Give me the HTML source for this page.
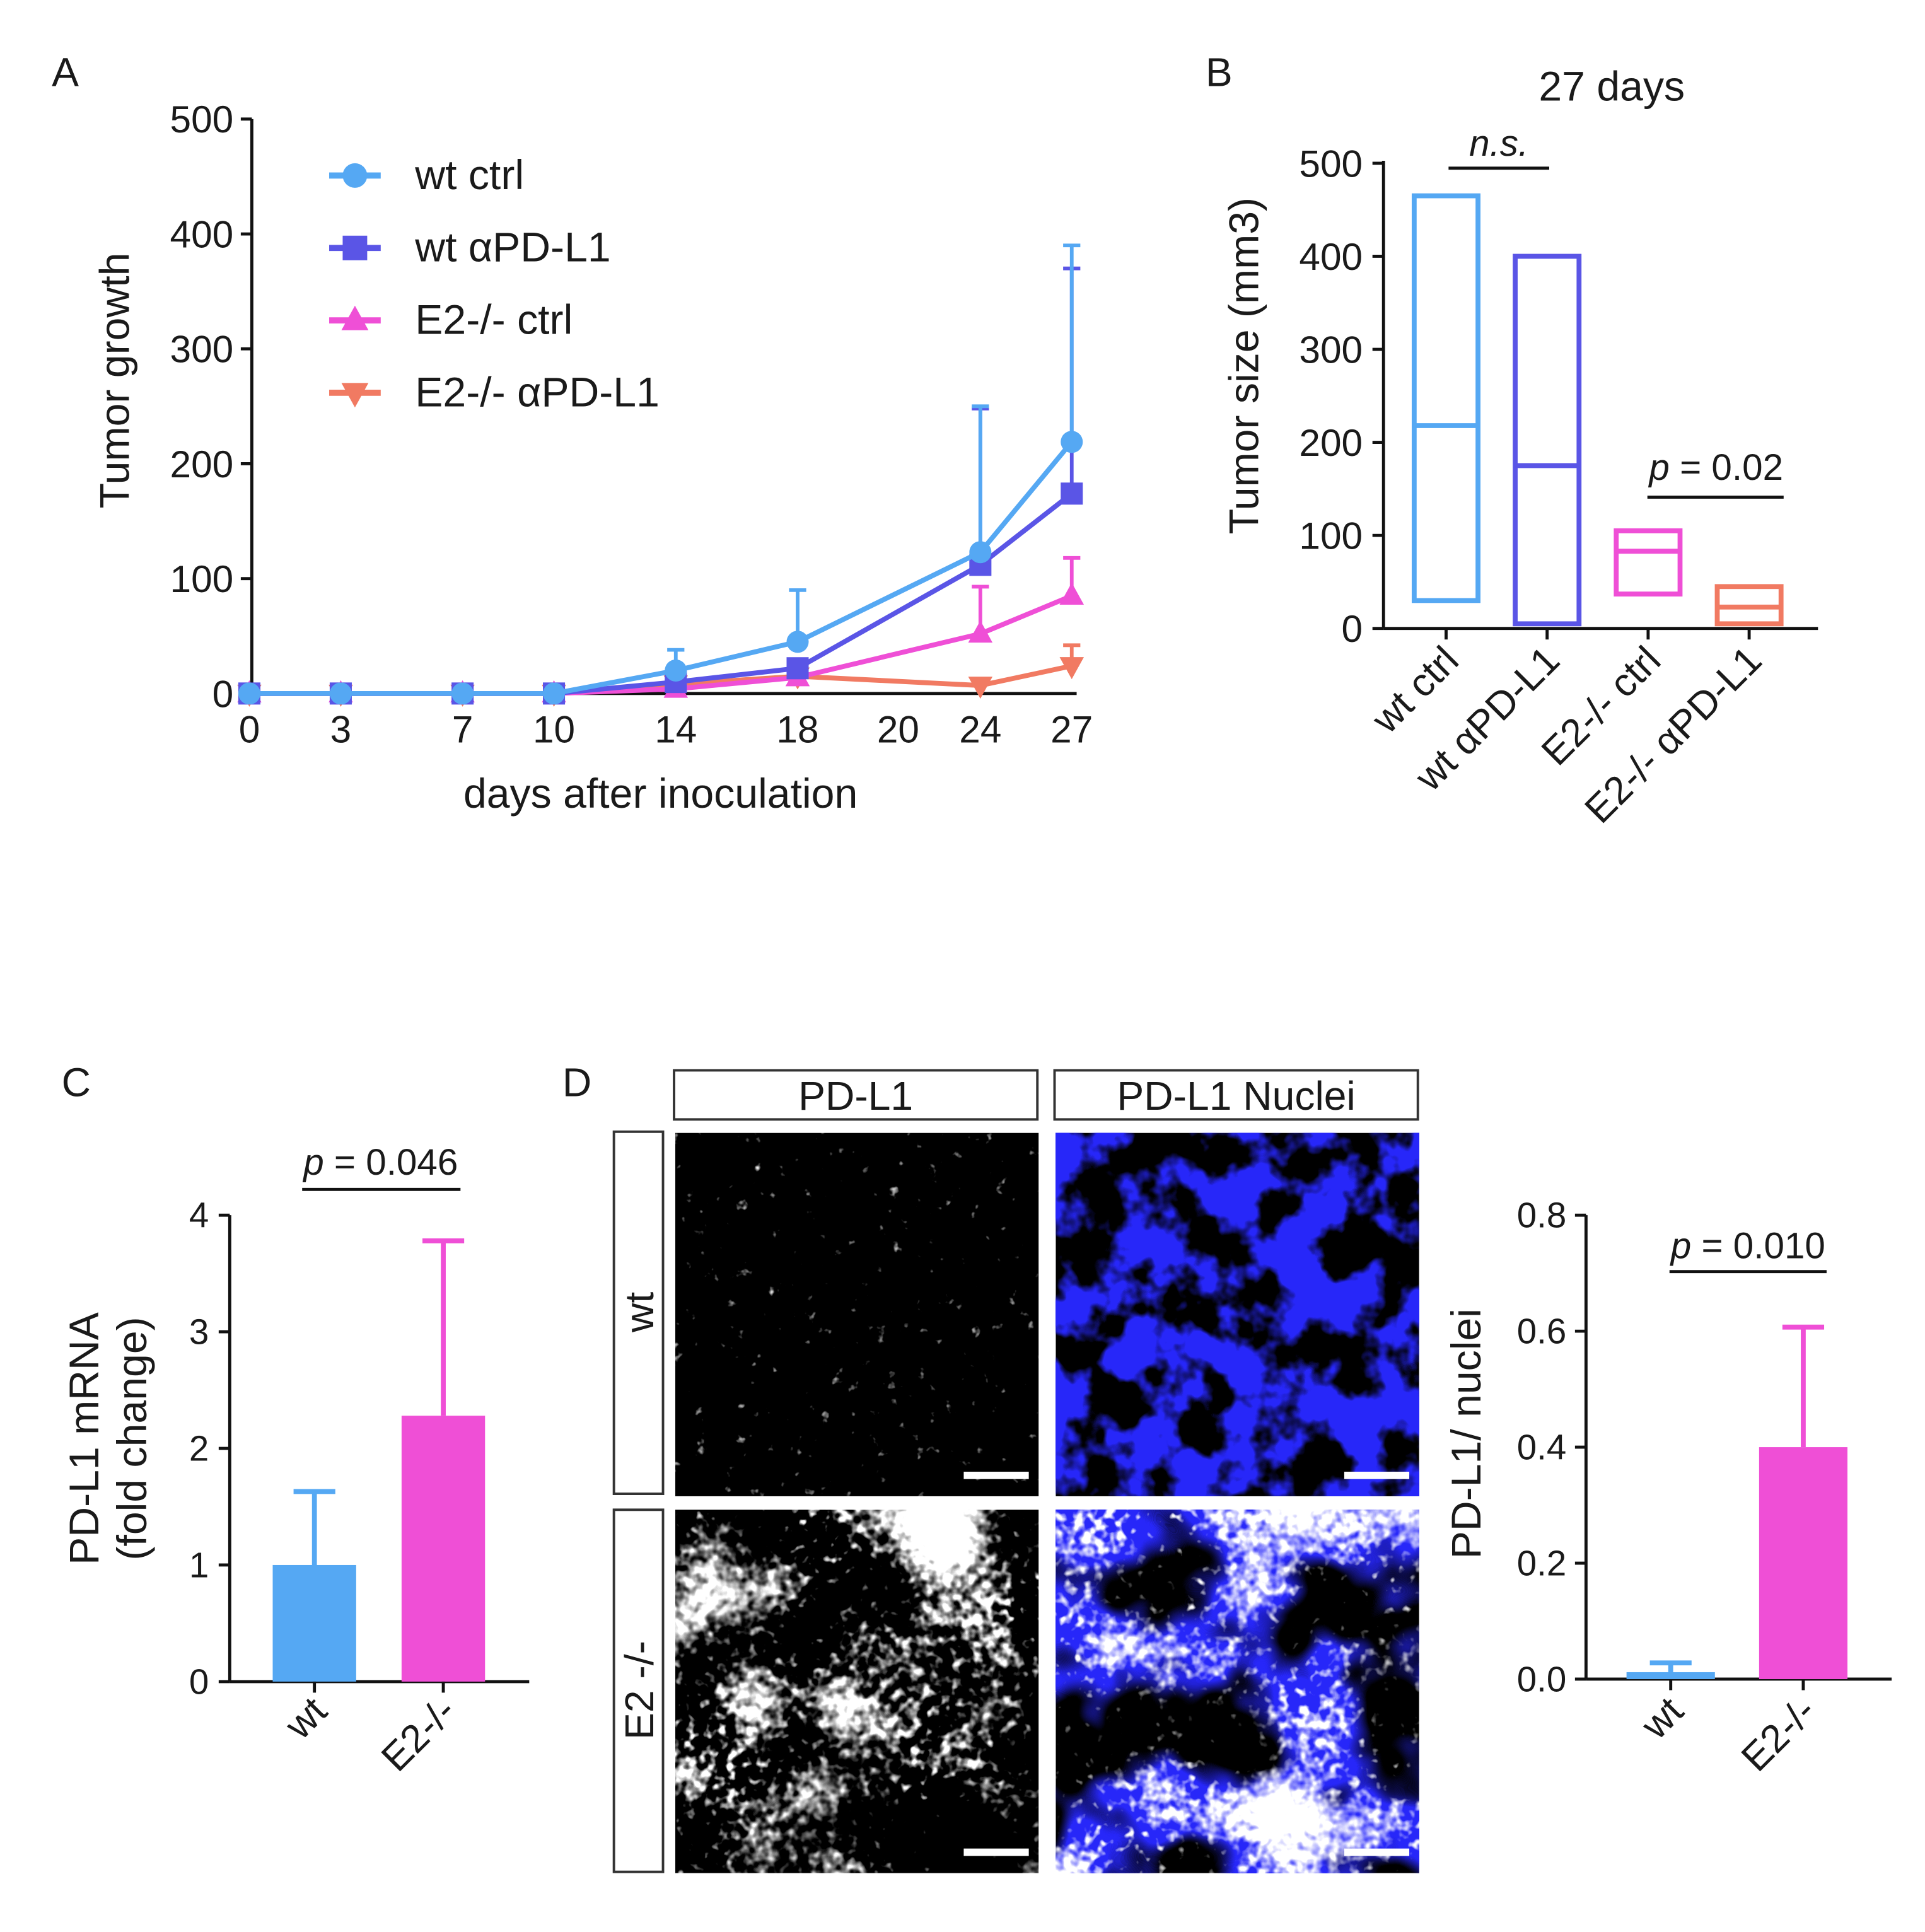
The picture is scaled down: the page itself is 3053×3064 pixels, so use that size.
<!DOCTYPE html>
<html><head><meta charset="utf-8"><style>
html,body{margin:0;padding:0;background:#fff}
svg{display:block}
text{font-family:"Liberation Sans",sans-serif;fill:#1a1a1a}
</style></head><body>
<svg id="fig" xmlns="http://www.w3.org/2000/svg" width="3053" height="3064" viewBox="0 0 1568 1574">
<defs>
<filter id="fBlue" x="0" y="0" width="1" height="1">
<feTurbulence type="fractalNoise" baseFrequency="0.024" numOctaves="4" seed="3"/>
<feColorMatrix type="matrix" values="0 0 0 0 0.02  0 0 0 0 0.02  0 0 0 0 0.95  7 0 0 0 -2.9"/>
</filter>
<filter id="fWhiteSparse" x="0" y="0" width="1" height="1">
<feTurbulence type="fractalNoise" baseFrequency="0.09" numOctaves="3" seed="7"/>
<feColorMatrix type="matrix" values="0 0 0 0 1  0 0 0 0 1  0 0 0 0 1  5 0 0 0 -3.6"/>
</filter>
<filter id="fWhite" x="0" y="0" width="1" height="1">
<feTurbulence type="fractalNoise" baseFrequency="0.011" numOctaves="2" seed="11" result="a"/>
<feTurbulence type="fractalNoise" baseFrequency="0.12" numOctaves="2" seed="5" result="b"/>
<feComposite in="a" in2="b" operator="arithmetic" k2="1" k3="0.6" k4="-0.25"/>
<feColorMatrix type="matrix" values="0 0 0 0 1  0 0 0 0 1  0 0 0 0 1  5 0 0 0 -1.3"/>
</filter>
<filter id="fBlueB" x="0" y="0" width="1" height="1">
<feTurbulence type="fractalNoise" baseFrequency="0.011" numOctaves="3" seed="11"/>
<feColorMatrix type="matrix" values="0 0 0 0 0.02  0 0 0 0 0.02  0 0 0 0 0.95  7 0 0 0 -2.6"/>
</filter>
</defs>
<g id="root"></g>
</svg>
<script>
// ---------- Panel A data ----------
const daysA = [0,3,7,10,14,18,24,27];
const wtCtrl = [0,0,0,0,20,45,123,219];
const wtCtrlErr = [0,0,0,0,38,90,250,390];
const wtPD = [0,0,0,0,10,22,112,174];
const wtPDErr = [0,0,0,0,14,28,248,370];
const e2Ctrl = [0,0,0,0,4,14,52,85];
const e2CtrlErr = [0,0,0,0,6,18,93,118];
const e2PD = [0,0,0,0,8,15,7,24];
const e2PDErr = [0,0,0,0,10,18,10,42];
const xTickVals = [0,3,7,10,14,18,21.3,24,27];
const xTickLabels = ['0','3','7','10','14','18','20','24','27'];
const yTicksA = [0,100,200,300,400,500];
const seriesNamesA = ['wt ctrl','wt \u03b1PD-L1','E2-/- ctrl','E2-/- \u03b1PD-L1'];
// ---------- Panel B data ----------
const catsB = ['wt ctrl','wt \u03b1PD-L1','E2-/- ctrl','E2-/- \u03b1PD-L1'];
const minB = [30,5,37,5];
const maxB = [465,400,105,45];
const meanB = [218,175,83,23];
const yTicksB = [0,100,200,300,400,500];
// ---------- Panel C data ----------
const catsC = ['wt','E2-/-'];
const valC = [1.0,2.28];
const errC = [1.63,3.78];
const yTicksC = [0,1,2,3,4];
// ---------- Panel D data ----------
const catsD = ['wt','E2-/-'];
const valD = [0.012,0.40];
const errD = [0.028,0.607];
const yTicksD = [0,0.2,0.4,0.6,0.8];
const yTickLabD = ['0.0','0.2','0.4','0.6','0.8'];

const colors = ['#55a8f3','#5a55e6','#ef4fd6','#f17a62'];
const NS='http://www.w3.org/2000/svg';
const root=document.getElementById('root');
function el(tag,attrs,parent,txt){const e=document.createElementNS(NS,tag);for(const k in attrs)e.setAttribute(k,attrs[k]);if(txt!==undefined)e.textContent=txt;(parent||root).appendChild(e);return e;}

// ===== Panel A =====
const ax=d=>203+d*(670/27);
const ay=v=>565-v*(468/500);
let t;
t=el('text',{x:42,y:70,'font-size':33},root,'A');

let l=el('line',{x1:205,y1:97,x2:205,y2:565,stroke:'#111','stroke-width':2.5});

l=el('line',{x1:205,y1:565,x2:877,y2:565,stroke:'#111','stroke-width':2.5});

yTicksA.forEach(v=>{
  const tk=el('line',{x1:196,y1:ay(v),x2:205,y2:ay(v),stroke:'#111','stroke-width':2.5});
  
  const tx=el('text',{x:190,y:ay(v)+11,'font-size':31,'text-anchor':'end'},root,String(v));
  
});
xTickVals.forEach((d,i)=>{
  const tx=el('text',{x:ax(d),y:605,'font-size':31,'text-anchor':'middle'},root,xTickLabels[i]);
  
});
t=el('text',{x:538,y:658,'font-size':34,'text-anchor':'middle'},root,'days after inoculation');

t=el('text',{x:0,y:0,'font-size':34,'text-anchor':'middle',transform:'translate(105,310) rotate(-90)'},root,'Tumor growth');


function marker(g,shape,x,y,c,s){
  if(shape===0) return el('circle',{cx:x,cy:y,r:s,fill:c},g);
  if(shape===1) return el('rect',{x:x-s,y:y-s,width:2*s,height:2*s,fill:c},g);
  if(shape===2) return el('polygon',{points:`${x},${y-s*1.2} ${x-s*1.1},${y+s*0.8} ${x+s*1.1},${y+s*0.8}`,fill:c},g);
  return el('polygon',{points:`${x},${y+s*1.2} ${x-s*1.1},${y-s*0.8} ${x+s*1.1},${y-s*0.8}`,fill:c},g);
}
const valsA=[wtCtrl,wtPD,e2Ctrl,e2PD], errsA=[wtCtrlErr,wtPDErr,e2CtrlErr,e2PDErr];
const seriesKeys=['wt-ctrl','wt-apdl1','e2-ctrl','e2-apdl1'];
for(let s=3;s>=0;s--){
  const g=el('g',{});
  
  daysA.forEach((d,i)=>{
    if(errsA[s][i]>valsA[s][i]){
      const e=el('line',{x1:ax(d),y1:ay(valsA[s][i]),x2:ax(d),y2:ay(errsA[s][i]),stroke:colors[s],'stroke-width':3},g);
      
      const c=el('line',{x1:ax(d)-7,y1:ay(errsA[s][i]),x2:ax(d)+7,y2:ay(errsA[s][i]),stroke:colors[s],'stroke-width':3},g);
      
    }
  });
  const pl=el('polyline',{points:daysA.map((d,i)=>ax(d)+','+ay(valsA[s][i])).join(' '),fill:'none',stroke:colors[s],'stroke-width':4},g);
  
  daysA.forEach((d,i)=>{
    const m=marker(g,s,ax(d),ay(valsA[s][i]),colors[s],9);
    
  });
}
// legend
seriesNamesA.forEach((n,i)=>{
  const y=143+i*59;
  const g=el('g',{});
  
  el('line',{x1:268,y1:y,x2:310,y2:y,stroke:colors[i],'stroke-width':5},g);
  marker(g,i,289,y,colors[i],10);
  el('text',{x:338,y:y+11,'font-size':34},g,n);
});

// ===== Panel B =====
const bx=i=>1178+i*82.3;
const by=v=>512-v*(379/500);
t=el('text',{x:982,y:70,'font-size':33},root,'B');

t=el('text',{x:1313,y:82,'font-size':34,'text-anchor':'middle'},root,'27 days');

l=el('line',{x1:1127,y1:131,x2:1127,y2:512,stroke:'#111','stroke-width':2.5});

l=el('line',{x1:1127,y1:512,x2:1481,y2:512,stroke:'#111','stroke-width':2.5});

yTicksB.forEach(v=>{
  const tk=el('line',{x1:1118,y1:by(v),x2:1127,y2:by(v),stroke:'#111','stroke-width':2.5});
  
  const tx=el('text',{x:1110,y:by(v)+11,'font-size':31,'text-anchor':'end'},root,String(v));
  
});
t=el('text',{x:0,y:0,'font-size':34,'text-anchor':'middle',transform:'translate(1025,298) rotate(-90)'},root,'Tumor size (mm3)');

catsB.forEach((c,i)=>{
  const r=el('rect',{x:bx(i)-26,y:by(maxB[i]),width:52,height:by(minB[i])-by(maxB[i]),fill:'none',stroke:colors[i],'stroke-width':4});
  
  const m=el('line',{x1:bx(i)-26,y1:by(meanB[i]),x2:bx(i)+26,y2:by(meanB[i]),stroke:colors[i],'stroke-width':4});
  
  const tk=el('line',{x1:bx(i),y1:512,x2:bx(i),y2:521,stroke:'#111','stroke-width':2.5});
  
  const tx=el('text',{x:0,y:0,'font-size':32,'text-anchor':'end',transform:`translate(${bx(i)+12},${540}) rotate(-45)`},root,c);
  
});
l=el('line',{x1:1180,y1:137,x2:1262,y2:137,stroke:'#111','stroke-width':2.5});

t=el('text',{x:1221,y:127,'font-size':30,'text-anchor':'middle','font-style':'italic'},root,'n.s.');

l=el('line',{x1:1342,y1:405,x2:1453,y2:405,stroke:'#111','stroke-width':2.5});

t=el('text',{x:1398,y:391,'font-size':30,'text-anchor':'middle'},root);

t.innerHTML='<tspan font-style="italic">p</tspan> = 0.02';

// ===== Panel C =====
const cy=v=>1370-v*95;
const cx=i=>256+i*105;
t=el('text',{x:50,y:893,'font-size':33},root,'C');

l=el('line',{x1:187,y1:990,x2:187,y2:1370,stroke:'#111','stroke-width':2.5});

l=el('line',{x1:187,y1:1370,x2:431,y2:1370,stroke:'#111','stroke-width':2.5});

yTicksC.forEach(v=>{
  const tk=el('line',{x1:178,y1:cy(v),x2:187,y2:cy(v),stroke:'#111','stroke-width':2.5});
  
  const tx=el('text',{x:170,y:cy(v)+10,'font-size':29,'text-anchor':'end'},root,String(v));
  
});
t=el('text',{x:0,y:0,'font-size':34,'text-anchor':'middle',transform:'translate(80,1172) rotate(-90)'},root,'PD-L1 mRNA');

t=el('text',{x:0,y:0,'font-size':34,'text-anchor':'middle',transform:'translate(119,1172) rotate(-90)'},root,'(fold change)');

const cCol=[colors[0],colors[2]];
catsC.forEach((c,i)=>{
  const e=el('line',{x1:cx(i),y1:cy(valC[i]),x2:cx(i),y2:cy(errC[i]),stroke:cCol[i],'stroke-width':4});
  
  const cp=el('line',{x1:cx(i)-17,y1:cy(errC[i]),x2:cx(i)+17,y2:cy(errC[i]),stroke:cCol[i],'stroke-width':4});
  
  const r=el('rect',{x:cx(i)-34,y:cy(valC[i]),width:68,height:1370-cy(valC[i]),fill:cCol[i]});
  
  const tk=el('line',{x1:cx(i),y1:1370,x2:cx(i),y2:1379,stroke:'#111','stroke-width':2.5});
  
  const tx=el('text',{x:0,y:0,'font-size':32,'text-anchor':'end',transform:`translate(${cx(i)+12},${1396}) rotate(-45)`},root,c);
  
});
l=el('line',{x1:246,y1:969,x2:375,y2:969,stroke:'#111','stroke-width':2.5});

t=el('text',{x:310,y:957,'font-size':30,'text-anchor':'middle'},root);

t.innerHTML='<tspan font-style="italic">p</tspan> = 0.046';

// ===== Panel D images =====
t=el('text',{x:458,y:893,'font-size':33},root,'D');

[['PD-L1',549],['PD-L1 Nuclei',859]].forEach(([n,x])=>{
  const g=el('g',{});
  el('rect',{x:x,y:872,width:296,height:40,fill:'#fff',stroke:'#333','stroke-width':2},g);
  el('text',{x:x+148,y:904,'font-size':33,'text-anchor':'middle'},g,n);
});
[['wt',922],['E2 -/-',1230]].forEach(([n,y])=>{
  const g=el('g',{});
  el('rect',{x:500,y:y,width:40,height:295,fill:'#fff',stroke:'#333','stroke-width':2},g);
  el('text',{x:0,y:0,'font-size':33,'text-anchor':'middle',transform:`translate(532,${y+147}) rotate(-90)`},g,n);
});
function img(x,y,layers,name){
  const g=el('g',{});
  el('rect',{x:x,y:y,width:296,height:296,fill:'#000'},g);
  layers.forEach(f=>el('rect',{x:x,y:y,width:296,height:296,fill:'#000',filter:'url(#'+f+')'},g));
  el('rect',{x:x+235,y:y+276,width:53,height:6,fill:'#fff'},g);
}
img(550,923,['fWhiteSparse'],'image-wt-pdl1');
img(860,923,['fBlue'],'image-wt-merge');
img(550,1230,['fWhite'],'image-e2-pdl1');
img(860,1230,['fBlueB','fWhite'],'image-e2-merge');

// ===== Panel D chart =====
const dy=v=>1368-v*(378/0.8);
const dx=i=>1361+i*108;
l=el('line',{x1:1292,y1:990,x2:1292,y2:1368,stroke:'#111','stroke-width':2.5});

l=el('line',{x1:1292,y1:1368,x2:1541,y2:1368,stroke:'#111','stroke-width':2.5});

yTicksD.forEach((v,i)=>{
  const tk=el('line',{x1:1283,y1:dy(v),x2:1292,y2:dy(v),stroke:'#111','stroke-width':2.5});
  
  const tx=el('text',{x:1276,y:dy(v)+10,'font-size':29,'text-anchor':'end'},root,yTickLabD[i]);
  
});
t=el('text',{x:0,y:0,'font-size':34,'text-anchor':'middle',transform:'translate(1206,1168) rotate(-90)'},root,'PD-L1/ nuclei');

catsD.forEach((c,i)=>{
  const e=el('line',{x1:dx(i),y1:dy(valD[i]),x2:dx(i),y2:dy(errD[i]),stroke:cCol[i],'stroke-width':4});
  
  const cp=el('line',{x1:dx(i)-17,y1:dy(errD[i]),x2:dx(i)+17,y2:dy(errD[i]),stroke:cCol[i],'stroke-width':4});
  
  const r=el('rect',{x:dx(i)-36,y:dy(valD[i]),width:72,height:1368-dy(valD[i]),fill:cCol[i]});
  
  const tk=el('line',{x1:dx(i),y1:1368,x2:dx(i),y2:1377,stroke:'#111','stroke-width':2.5});
  
  const tx=el('text',{x:0,y:0,'font-size':32,'text-anchor':'end',transform:`translate(${dx(i)+12},${1396}) rotate(-45)`},root,c);
  
});
l=el('line',{x1:1360,y1:1036,x2:1488,y2:1036,stroke:'#111','stroke-width':2.5});

t=el('text',{x:1424,y:1025,'font-size':30,'text-anchor':'middle'},root);

t.innerHTML='<tspan font-style="italic">p</tspan> = 0.010';
</script>
</body></html>
